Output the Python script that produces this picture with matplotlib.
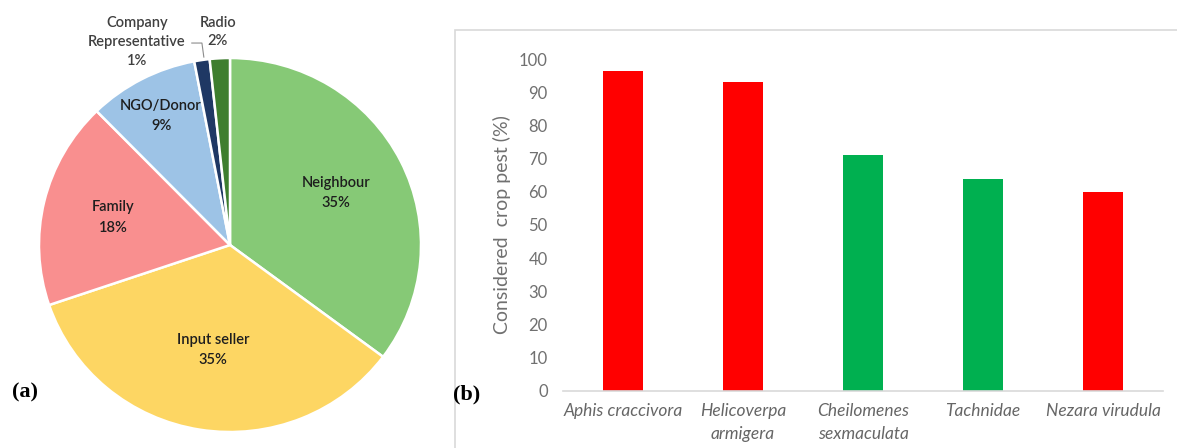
import numpy as np
import matplotlib
matplotlib.use("Agg")
import matplotlib.pyplot as plt
from matplotlib.patches import Rectangle

# ---------------- data ----------------
pie_labels = ["Neighbour", "Input seller", "Family", "NGO/Donor",
              "Company\nRepresentative", "Radio"]
pie_values = [35.2, 34.6, 17.9, 9.3, 1.3, 1.7]
pie_colors = ["#86C976", "#FDD663", "#F98F8F", "#9DC3E6", "#1F3864", "#3E7E2E"]

pests = ["Aphis craccivora", "Helicoverpa\narmigera", "Cheilomenes\nsexmaculata",
         "Tachnidae", "Nezara virudula"]
pest_values = [96.5, 93.0, 71.0, 64.0, 60.0]
pest_colors = ["#FF0000", "#FF0000", "#00B050", "#00B050", "#FF0000"]
yticks = [0, 10, 20, 30, 40, 50, 60, 70, 80, 90, 100]

plt.rcParams['font.family'] = ['Lato', 'DejaVu Sans']

W, H = 1177, 448
fig = plt.figure(figsize=(W / 100, H / 100), dpi=100)

def px_axes(left, top, right, bottom):
    return fig.add_axes([left / W, 1 - bottom / H, (right - left) / W, (bottom - top) / H])

# ---------------- pie (a) ----------------
axp = px_axes(39, 58, 421, 432)
wedges, _ = axp.pie(pie_values, colors=pie_colors, startangle=90, counterclock=False,
                    wedgeprops=dict(edgecolor="white", linewidth=1.8))
axp.set_xlim(-1, 1)
axp.set_ylim(-1, 1)
axp.set_aspect("auto")
axp.axis("off")

total = sum(pie_values)
rfac = [0.62, 0.57, 0.63, 0.78]
for i in range(4):
    w = wedges[i]
    ang = np.deg2rad((w.theta1 + w.theta2) / 2)
    pct = round(pie_values[i] / total * 100)
    axp.text(rfac[i] * np.cos(ang), rfac[i] * np.sin(ang),
             f"{pie_labels[i]}\n{pct}%", ha="center", va="center",
             fontsize=10.5, color="#1E1E1E", linespacing=1.55, fontweight="semibold")

# outer labels
pct_cr = round(pie_values[4] / total * 100)
pct_ra = round(pie_values[5] / total * 100)
axp.text(-0.487, 1.086, f"{pie_labels[4]}\n{pct_cr}%", ha="center", va="center",
         fontsize=10.5, color="#404040", linespacing=1.45, fontweight="semibold",
         clip_on=False)
axp.text(-0.063, 1.139, f"{pie_labels[5]}\n{pct_ra}%", ha="center", va="center",
         fontsize=10.5, color="#404040", linespacing=1.45, fontweight="semibold",
         clip_on=False)
# leader line for company representative
axp.plot([-0.20, -0.147, -0.137], [1.08, 1.08, 1.005], color="#8C8C8C", lw=0.8,
         clip_on=False)

fig.text(25 / W, 1 - 392 / H, "(a)", family="Liberation Serif", fontweight="bold",
         fontsize=16, ha="center", va="center")

# ---------------- bars (b) ----------------
fig.patches.append(Rectangle((455 / W, -0.1), 0.7, 0.1 + (H - 30) / H,
                             transform=fig.transFigure, fill=False,
                             edgecolor="#D9D9D9", linewidth=1.2))

axb = px_axes(563, 59.3, 1163, 390.5)
x = np.arange(len(pests))
axb.bar(x, pest_values, width=0.33, color=pest_colors)
axb.set_xlim(-0.5, len(pests) - 0.5)
axb.set_ylim(0, 100)
axb.set_yticks(yticks)
axb.set_yticklabels([str(t) for t in yticks])
axb.set_xticks(x)
axb.set_xticklabels(pests, fontstyle="italic", fontsize=12.5, color="#666666",
                    linespacing=1.55)
axb.tick_params(axis="y", length=0, pad=11, labelsize=12, labelcolor="#707070")
axb.tick_params(axis="x", length=0, pad=9)
for s in ["top", "right", "left"]:
    axb.spines[s].set_visible(False)
axb.spines["bottom"].set_color("#D9D9D9")
axb.spines["bottom"].set_linewidth(1.2)
axb.set_ylabel("Considered  crop pest (%)", fontsize=14, color="#707070", labelpad=6)

fig.text(467 / W, 1 - 394 / H, "(b)", family="Liberation Serif", fontweight="bold",
         fontsize=16, ha="center", va="center")

fig.savefig("out.png", dpi=100)
